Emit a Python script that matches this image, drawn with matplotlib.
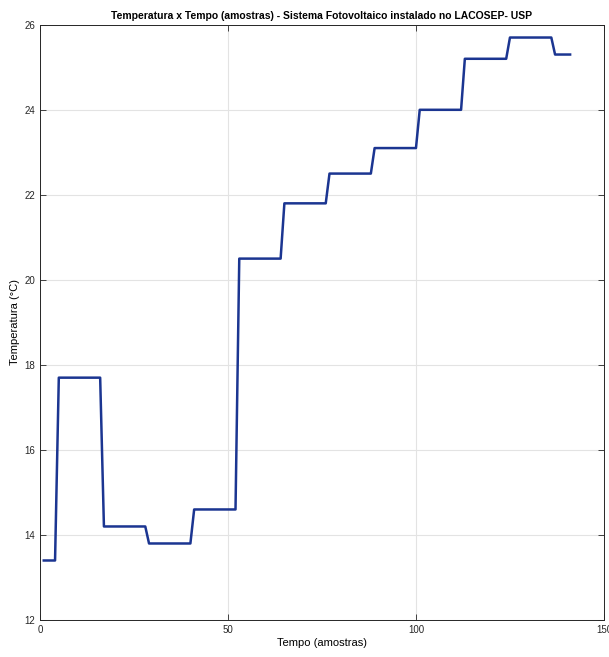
import matplotlib
matplotlib.use("Agg")
import matplotlib.pyplot as plt

# vertices of the step curve (sample index, temperature)
amostras = [1, 4, 5, 16, 17, 28, 29, 40, 41, 52, 53, 64, 65, 76, 77, 88, 89,
            100, 101, 112, 113, 124, 125, 136, 137, 141]
temperatura = [13.4, 13.4, 17.7, 17.7, 14.2, 14.2, 13.8, 13.8, 14.6, 14.6,
               20.5, 20.5, 21.8, 21.8, 22.5, 22.5, 23.1, 23.1, 24.0, 24.0,
               25.2, 25.2, 25.7, 25.7, 25.3, 25.3]

xticks = [0, 50, 100, 150]
yticks = [12, 14, 16, 18, 20, 22, 24, 26]

plt.rcParams['font.family'] = ['Liberation Sans', 'DejaVu Sans']

fig = plt.figure(figsize=(6.09, 6.57), dpi=100)
ax = fig.add_axes([0.0657, 0.0563, 0.926, 0.906])

ax.plot(amostras, temperatura, color='#1b3591', linewidth=1.8)

ax.set_xlim(0, 150)
ax.set_ylim(12, 26)
ax.set_xticks(xticks)
ax.set_yticks(yticks)
ax.grid(True, color='#e3e3e3', linewidth=0.8)
ax.set_axisbelow(True)
ax.tick_params(direction='in', top=True, right=True, labelsize=7,
               length=4, width=0.6, colors='#262626')
for s in ax.spines.values():
    s.set_color('#262626')
    s.set_linewidth(0.7)

ax.set_title('Temperatura x Tempo (amostras) - Sistema Fotovoltaico instalado no LACOSEP- USP',
             fontsize=7.5, fontweight='bold', pad=4)
ax.set_xlabel('Tempo (amostras)', fontsize=8, labelpad=2)
ax.set_ylabel('Temperatura (°C)', fontsize=8, labelpad=3)

fig.savefig('out.png', dpi=100)
